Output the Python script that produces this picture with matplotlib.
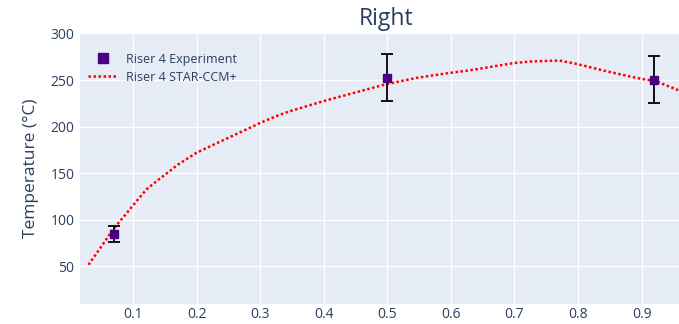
import matplotlib.pyplot as plt
from matplotlib.lines import Line2D

# experiment points
exp_x = [0.07, 0.5, 0.92]
exp_y = [85, 252.5, 250.5]
exp_err = [8.5, 25.5, 25]

# STAR-CCM+ curve
sim_x = [0.03, 0.05, 0.069, 0.09, 0.108, 0.1215, 0.14, 0.158, 0.169, 0.2, 0.242,
         0.284, 0.3, 0.328, 0.347, 0.399, 0.457, 0.496, 0.546, 0.598, 0.63,
         0.70, 0.729, 0.771, 0.798, 0.845, 0.892, 0.923, 0.958]
sim_y = [51.7, 71, 90, 107, 122, 132.8, 143, 152.4, 158.5, 172, 185.5,
         198.8, 204, 212, 216.6, 227.3, 238, 245.2, 252.4, 257.7, 260.5,
         268.4, 270.1, 270.9, 267.3, 259.4, 252.3, 248.7, 239]

xticks = [0.1, 0.2, 0.3, 0.4, 0.5, 0.6, 0.7, 0.8, 0.9]
yticks = [50, 100, 150, 200, 250, 300]

txt = '#2a3f5f'
indigo = '#4B0082'
plt.rcParams['font.family'] = ['Open Sans', 'DejaVu Sans']

fig = plt.figure(figsize=(6.79, 3.24), dpi=100)
ax = fig.add_axes([80 / 679, 1 - 304 / 324, 599 / 679, (304 - 33.5) / 324])
ax.set_facecolor('#E5ECF6')

ax.plot(sim_x, sim_y, color='red', linestyle=(0, (1, 1)), linewidth=1.8, zorder=2)
ax.errorbar(exp_x, exp_y, yerr=exp_err, fmt='s', color=indigo, markersize=6,
            ecolor='black', elinewidth=1.3, capsize=4, capthick=1.3, zorder=3)

ax.set_xlim(0.0167, 0.9587)
ax.set_ylim(9.6, 300)
ax.set_xticks(xticks)
ax.set_yticks(yticks)
ax.grid(color='white', linewidth=1)
ax.set_axisbelow(True)
for s in ax.spines.values():
    s.set_visible(False)
ax.tick_params(length=0, labelsize=10, labelcolor=txt)
ax.tick_params(axis='x', pad=2)
ax.tick_params(axis='y', pad=4)

ax.set_ylabel('Temperature (°C)', fontsize=12.5, color=txt, labelpad=8)
fig.text(0.568, 0.94, 'Right', fontsize=16.5, color=txt, ha='center', va='center')

handles = [
    Line2D([], [], marker='s', linestyle='none', color=indigo, markersize=7),
    Line2D([], [], color='red', linestyle=(0, (1, 1)), linewidth=1.8),
]
labels = ['Riser 4 Experiment', 'Riser 4 STAR-CCM+']
leg = ax.legend(handles, labels, loc='upper left', frameon=False, fontsize=9,
                bbox_to_anchor=(-0.005, 0.97), handlelength=2.4, labelspacing=0.4,
                handletextpad=0.6)
for t in leg.get_texts():
    t.set_color(txt)

fig.savefig('out.png', dpi=100)
